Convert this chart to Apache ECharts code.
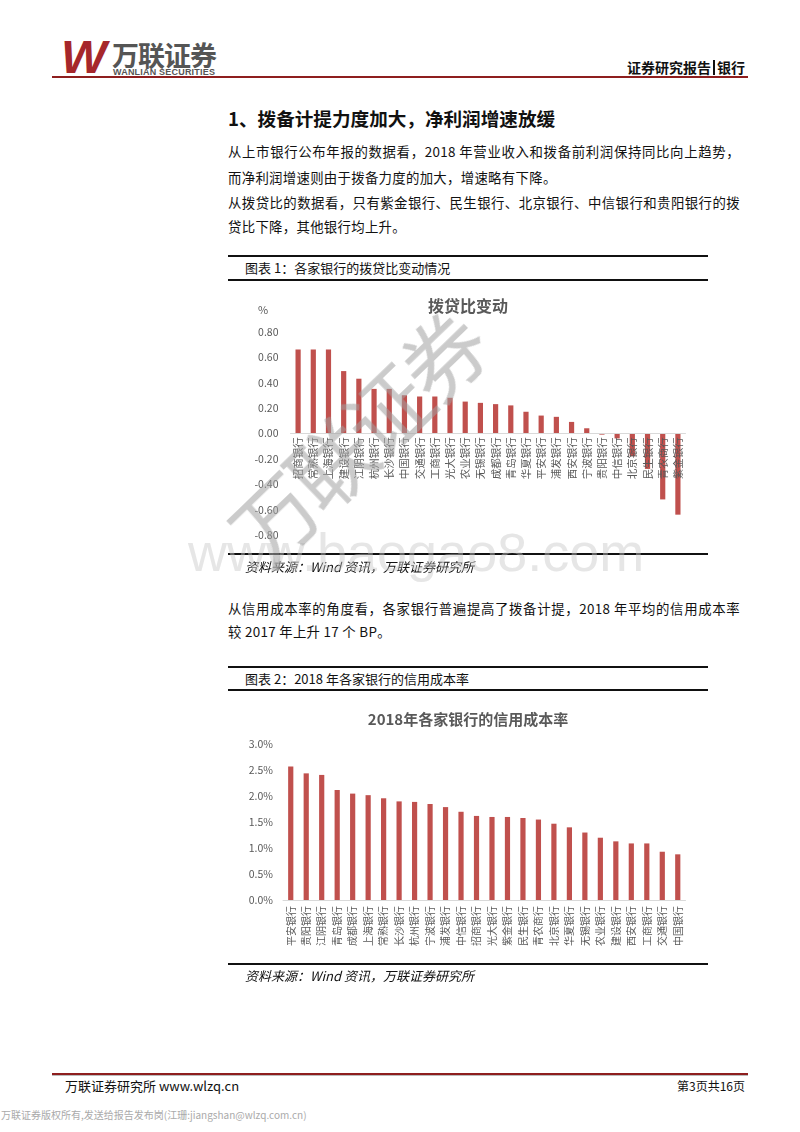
<!DOCTYPE html>
<html>
<head>
<meta charset="utf-8">
<script src="https://cdn.jsdelivr.net/npm/echarts/dist/echarts.min.js"></script>
<style>
  html, body { margin: 0; padding: 0; background: #ffffff; }
  body { width: 800px; height: 1132px; position: relative; overflow: hidden;
         font-family: "Noto Sans CJK SC", "Noto Sans", sans-serif; color: #111; }
  .abs { position: absolute; white-space: nowrap; }
  .para { position: absolute; left: 228px; width: 512px; font-size: 13.4px; letter-spacing: 0.3px; line-height: 18px; }
  .just { text-align: justify; text-align-last: justify; }
  .rule { position: absolute; left: 228px; width: 480px; background: #111; }
  .cap { position: absolute; left: 245px; font-size: 13px; line-height: 16px; }
  .src { position: absolute; left: 245px; font-size: 13px; line-height: 16px; font-style: italic; }
  .chart { position: absolute; left: 228px; width: 480px; height: 272px; }
  .wm { position: absolute; pointer-events: none; z-index: 10; white-space: nowrap; }
</style>
</head>
<body>
<!-- header -->
<div class="abs" style="left:62px; top:34px; font-family:'Liberation Sans',sans-serif; font-weight:bold; font-style:italic; font-size:46px; line-height:46px; color:#A6272B; letter-spacing:-4px; transform:scaleX(1.05);">W</div>
<div class="abs" style="left:112px; top:40px; font-size:27px; line-height:30px; color:#555; font-weight:bold; letter-spacing:-1px;">万联证券</div>
<div class="abs" style="left:113px; top:67px; font-family:'Liberation Sans',sans-serif; font-size:9px; line-height:10px; color:#555; font-weight:bold; letter-spacing:0.2px;">WANLIAN SECURITIES</div>
<div class="abs" style="right:55px; top:58px; font-size:14px; line-height:18px; font-weight:bold; color:#111;">证券研究报告<span style="display:inline-block;width:2px;height:15px;background:#111;margin:0 2px;vertical-align:-2px;"></span>银行</div>
<div class="abs" style="left:52px; top:76px; width:696px; height:2px; background:#8E1E1E;"></div>

<!-- section title -->
<div class="abs" style="left:228px; top:107px; font-size:18.6px; line-height:22px; font-weight:bold; color:#111;">1、拨备计提力度加大，净利润增速放缓</div>

<div class="para just" style="top:142px;">从上市银行公布年报的数据看，2018 年营业收入和拨备前利润保持同比向上趋势，</div>
<div class="para" style="top:168px;">而净利润增速则由于拨备力度的加大，增速略有下降。</div>
<div class="para just" style="top:193px;">从拨贷比的数据看，只有紫金银行、民生银行、北京银行、中信银行和贵阳银行的拨</div>
<div class="para" style="top:217px;">贷比下降，其他银行均上升。</div>

<!-- figure 1 -->
<div class="rule" style="top:255px; height:2px;"></div>
<div class="cap" style="top:260px;">图表 1：各家银行的拨贷比变动情况</div>
<div class="rule" style="top:279px; height:1.5px;"></div>
<div id="c1" class="chart" style="top:282px;"></div>
<div class="rule" style="top:553px; height:2px;"></div>
<div class="src" style="top:559px;">资料来源：Wind 资讯，万联证券研究所</div>

<div class="para just" style="top:599px;">从信用成本率的角度看，各家银行普遍提高了拨备计提，2018 年平均的信用成本率</div>
<div class="para" style="top:622px;">较 2017 年上升 17 个 BP。</div>

<!-- figure 2 -->
<div class="rule" style="top:666px; height:2px;"></div>
<div class="cap" style="top:671px;">图表 2：2018 年各家银行的信用成本率</div>
<div class="rule" style="top:689px; height:1.5px;"></div>
<div id="c2" class="chart" style="top:692px;"></div>
<div class="rule" style="top:963px; height:2px;"></div>
<div class="src" style="top:968px;">资料来源：Wind 资讯，万联证券研究所</div>

<!-- footer -->
<div class="abs" style="left:52px; top:1073px; width:696px; height:2px; background:#8E1E1E;"></div>
<div class="abs" style="left:52px; top:1075px; width:696px; height:1px; background:#bbb;"></div>
<div class="abs" style="left:65px; top:1078px; font-size:13px; line-height:16px; color:#111;">万联证券研究所 www.wlzq.cn</div>
<div class="abs" style="right:55px; top:1078px; font-size:12px; line-height:16px; color:#111;">第3页共16页</div>
<div class="abs" style="left:1px; top:1109px; font-size:10px; line-height:12px; color:#aaa;">万联证券版权所有,发送给报告发布岗(江珊:jiangshan@wlzq.com.cn)</div>

<!-- watermarks -->
<div class="wm" style="left:188px; top:522px; font-family:'Liberation Sans',sans-serif; font-size:54px; line-height:60px; color:rgba(200,200,200,0.45);">www.baogao8.com</div>
<div class="wm" style="left:195px; top:392px; width:320px; text-align:center; font-size:84px; line-height:90px; color:rgba(160,160,160,0.55); transform:rotate(-44deg); letter-spacing:-6px;">万联证券</div>

<script>
// ---- Chart 1: 拨贷比变动 ----
const chart1Categories = ['招商银行','常熟银行','上海银行','建设银行','江阴银行','杭州银行','长沙银行','中国银行','交通银行','工商银行','光大银行','农业银行','无锡银行','成都银行','青岛银行','华夏银行','平安银行','浦发银行','西安银行','宁波银行','贵阳银行','中信银行','北京银行','民生银行','青农商行','紫金银行'];
const chart1Values = [0.66,0.66,0.66,0.49,0.43,0.35,0.35,0.30,0.29,0.29,0.28,0.25,0.24,0.23,0.22,0.17,0.14,0.13,0.09,0.04,-0.01,-0.04,-0.18,-0.28,-0.52,-0.64];
const chart1Title = '拨贷比变动';
const chart1Unit = '%';

// ---- Chart 2: 2018年各家银行的信用成本率 ----
const chart2Categories = ['平安银行','贵阳银行','江阴银行','青岛银行','成都银行','上海银行','常熟银行','长沙银行','杭州银行','宁波银行','浦发银行','中信银行','招商银行','光大银行','紫金银行','民生银行','青农商行','北京银行','华夏银行','无锡银行','农业银行','建设银行','西安银行','工商银行','交通银行','中国银行'];
const chart2Values = [2.57,2.44,2.41,2.12,2.05,2.02,1.96,1.90,1.89,1.85,1.79,1.70,1.62,1.60,1.60,1.58,1.55,1.47,1.40,1.30,1.20,1.13,1.09,1.09,0.93,0.88];
const chart2Title = '2018年各家银行的信用成本率';

const FONT = '"Noto Sans CJK SC", "Noto Sans", sans-serif';
const BAR = '#C0504D';
const GREY = '#595959';

const c1GridH = 203.3;
const c1 = echarts.init(document.getElementById('c1'), null, { renderer: 'canvas' });
c1.setOption({
  animation: false,
  textStyle: { fontFamily: FONT },
  title: { text: chart1Title, left: 'center', top: 11,
           textStyle: { fontFamily: FONT, fontSize: 16, fontWeight: 'bold', color: GREY } },
  graphic: [{ type: 'text', left: 30, top: 22, style: { text: chart1Unit, fontFamily: FONT, fontSize: 11, fill: GREY } }],
  grid: { left: 62.5, top: 49.7, width: 395, height: c1GridH, containLabel: false, outerBoundsMode: 'none' },
  xAxis: {
    type: 'category', data: chart1Categories, position: 'bottom', z: 5,
    offset: -c1GridH / 2,
    axisLine: { onZero: false, lineStyle: { color: '#d9d9d9', width: 1 } },
    axisTick: { show: false },
    axisLabel: { interval: 0, rotate: 90, fontSize: 10.5, color: GREY, margin: 4, fontFamily: FONT }
  },
  yAxis: {
    type: 'value', min: -0.8, max: 0.8, interval: 0.2,
    axisLine: { show: false }, axisTick: { show: false }, splitLine: { show: false },
    axisLabel: { fontSize: 10.5, color: GREY, margin: 12, fontFamily: FONT,
                 formatter: v => v.toFixed(2) }
  },
  series: [{ type: 'bar', data: chart1Values, barWidth: 5.2, itemStyle: { color: BAR }, z: 1 }]
});

const c2 = echarts.init(document.getElementById('c2'), null, { renderer: 'canvas' });
c2.setOption({
  animation: false,
  textStyle: { fontFamily: FONT },
  title: { text: chart2Title, left: 'center', top: 15,
           textStyle: { fontFamily: FONT, fontSize: 15, fontWeight: 'bold', color: GREY } },
  grid: { left: 55, top: 52.3, width: 402.5, height: 155.7, containLabel: false, outerBoundsMode: 'none' },
  xAxis: {
    type: 'category', data: chart2Categories,
    axisLine: { lineStyle: { color: '#d9d9d9', width: 1 } },
    axisTick: { show: false },
    axisLabel: { interval: 0, rotate: 90, fontSize: 10, color: GREY, margin: 6, fontFamily: FONT }
  },
  yAxis: {
    type: 'value', min: 0, max: 3, interval: 0.5,
    axisLine: { show: false }, axisTick: { show: false }, splitLine: { show: false },
    axisLabel: { fontSize: 10.5, color: GREY, margin: 10, fontFamily: FONT,
                 formatter: v => v.toFixed(1) + '%' }
  },
  series: [{ type: 'bar', data: chart2Values, barWidth: 5.2, itemStyle: { color: BAR } }]
});
</script>
</body>
</html>
